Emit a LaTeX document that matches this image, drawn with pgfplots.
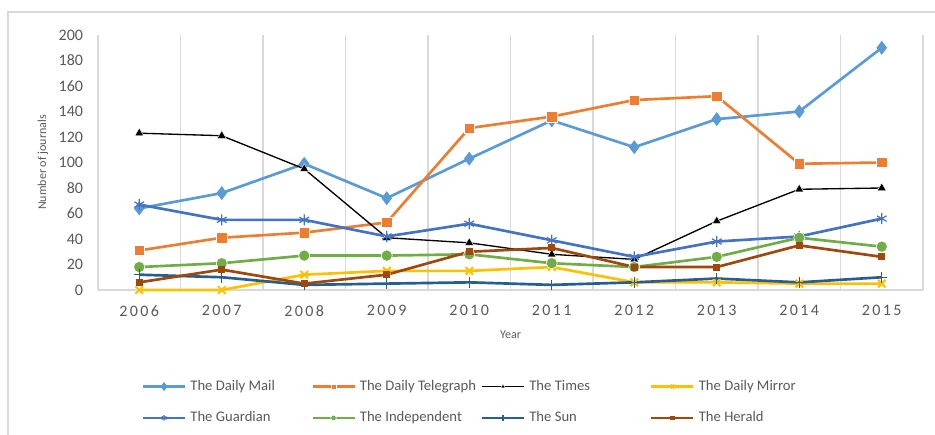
\documentclass[border=0pt]{standalone}
\usepackage{fontspec}
\setmainfont{Carlito}
\newfontfamily\spaced[LetterSpace=15]{Carlito}
\usepackage{pgfplots}
\pgfplotsset{compat=1.18}

\definecolor{cmail}{HTML}{5B9BD5}
\definecolor{ctele}{HTML}{ED7D31}
\definecolor{cmirror}{HTML}{FFC000}
\definecolor{cguard}{HTML}{4472C4}
\definecolor{cindep}{HTML}{70AD47}
\definecolor{csun}{HTML}{255E91}
\definecolor{cherald}{HTML}{9E480E}
\definecolor{txt}{HTML}{595959}
\definecolor{gridc}{HTML}{D9D9D9}

\newcommand{\lent}[1]{\makebox[90.6pt][l]{#1}}

\begin{document}
\begin{tikzpicture}
\begin{axis}[
    scale only axis,
    width=618.75pt, height=191.25pt,
    xmin=2005.5, xmax=2015.5, ymin=0, ymax=200,
    xtick={2006,...,2015},
    xticklabels={2006,2007,2008,2009,2010,2011,2012,2013,2014,2015},
    minor xtick={2005.5,2006.5,...,2015.5},
    xminorgrids,
    minor grid style={draw=gridc, line width=0.9pt},
    ytick={0,20,...,200},
    major tick length=0pt, minor tick length=0pt,
    axis x line*=bottom, axis y line*=left,
    x axis line style={draw=gridc, line width=1pt, -},
    y axis line style={draw=none},
    /pgf/number format/assume math mode=true,
    yticklabel style={font=\fontsize{12}{14}\selectfont, text=txt, anchor=east, inner sep=0pt, xshift=-11pt},
    xticklabel style={font=\spaced\fontsize{12}{14}\selectfont, text=txt, anchor=north, inner sep=0pt, yshift=-11.25pt},
    xlabel={Year}, ylabel={Number of journals},
    xlabel style={at={(axis description cs:0.5,-0.1765)}, anchor=center, font=\fontsize{9}{11}\selectfont, text=txt},
    ylabel style={at={(axis description cs:-0.0667,0.5)}, anchor=center, font=\fontsize{9}{11}\selectfont, text=txt},
    clip=false,
    legend columns=4,
    legend style={at={(axis description cs:0,0)}, anchor=north west, xshift=32.8pt, yshift=-67.2pt,
        draw=none, fill=none, inner sep=0pt, outer sep=0pt, row sep=13pt,
        nodes={inner sep=0pt, text height=8pt, text depth=2.5pt},
        font=\fontsize{11}{13}\selectfont, text=txt,
        /tikz/every odd column/.append style={column sep=3pt}},
    legend cell align=left,
    legend image code/.code={\draw[mark repeat=2,mark phase=2,#1,every mark/.append style={scale=0.5}]
        plot coordinates {(0pt,0pt) (15.75pt,0pt) (31.5pt,0pt)};},
]
% The Daily Mail
\addplot[cmail, line width=2pt, mark=diamond*, mark size=3.6pt, mark options={fill=cmail, draw=cmail}]
    coordinates {(2006,64)(2007,76)(2008,99)(2009,72)(2010,103)(2011,133)(2012,112)(2013,134)(2014,140)(2015,190)};
\addlegendentry{\lent{The Daily Mail}}
% The Daily Telegraph
\addplot[ctele, line width=2pt, mark=square*, mark size=3.9pt, mark options={fill=ctele, draw=white, line width=0.4pt}]
    coordinates {(2006,31)(2007,41)(2008,45)(2009,53)(2010,127)(2011,136)(2012,149)(2013,152)(2014,99)(2015,100)};
\addlegendentry{\lent{The Daily Telegraph}}
% The Times
\addplot[black, line width=1pt, mark=triangle*, mark size=3.8pt, mark options={fill=black, draw=white, line width=0.3pt}]
    coordinates {(2006,123)(2007,121)(2008,95)(2009,41)(2010,37)(2011,28)(2012,24)(2013,54)(2014,79)(2015,80)};
\addlegendentry{\lent{The Times}}
% The Daily Mirror
\addplot[cmirror, line width=2pt, mark=x, mark size=4pt, mark options={line width=1.5pt}]
    coordinates {(2006,0)(2007,0)(2008,12)(2009,15)(2010,15)(2011,18)(2012,6)(2013,6)(2014,5)(2015,5)};
\addlegendentry{\lent{The Daily Mirror}}
% The Guardian
\addplot[cguard, line width=2pt, mark=asterisk, mark size=4.2pt, mark options={line width=0.9pt}]
    coordinates {(2006,67)(2007,55)(2008,55)(2009,42)(2010,52)(2011,39)(2012,26)(2013,38)(2014,42)(2015,56)};
\addlegendentry{\lent{The Guardian}}
% The Independent
\addplot[cindep, line width=2pt, mark=*, mark size=4.2pt, mark options={fill=cindep, draw=white, line width=0.4pt}]
    coordinates {(2006,18)(2007,21)(2008,27)(2009,27)(2010,28)(2011,21)(2012,18)(2013,26)(2014,41)(2015,34)};
\addlegendentry{\lent{The Independent}}
% The Sun
\addplot[csun, line width=2pt, mark=+, mark size=4pt, mark options={line width=0.9pt}]
    coordinates {(2006,12)(2007,10)(2008,4)(2009,5)(2010,6)(2011,4)(2012,6)(2013,9)(2014,6)(2015,10)};
\addlegendentry{\lent{The Sun}}
% The Herald
\addplot[cherald, line width=2pt, mark=square*, mark size=1.6pt, mark options={fill=cherald, draw=cherald}]
    coordinates {(2006,6)(2007,16)(2008,5)(2009,12)(2010,30)(2011,33)(2012,18)(2013,18)(2014,35)(2015,26)};
\addlegendentry{\lent{The Herald}}
\end{axis}
% chart area border
\draw[gridc, line width=1pt] (-67.5pt,-108.75pt) -- (-67.5pt,208.5pt) -- (627.75pt,208.5pt);
\pgfresetboundingbox
\useasboundingbox (-73.5pt,-108.75pt) rectangle (627.75pt,217.5pt);
\end{tikzpicture}
\end{document}
